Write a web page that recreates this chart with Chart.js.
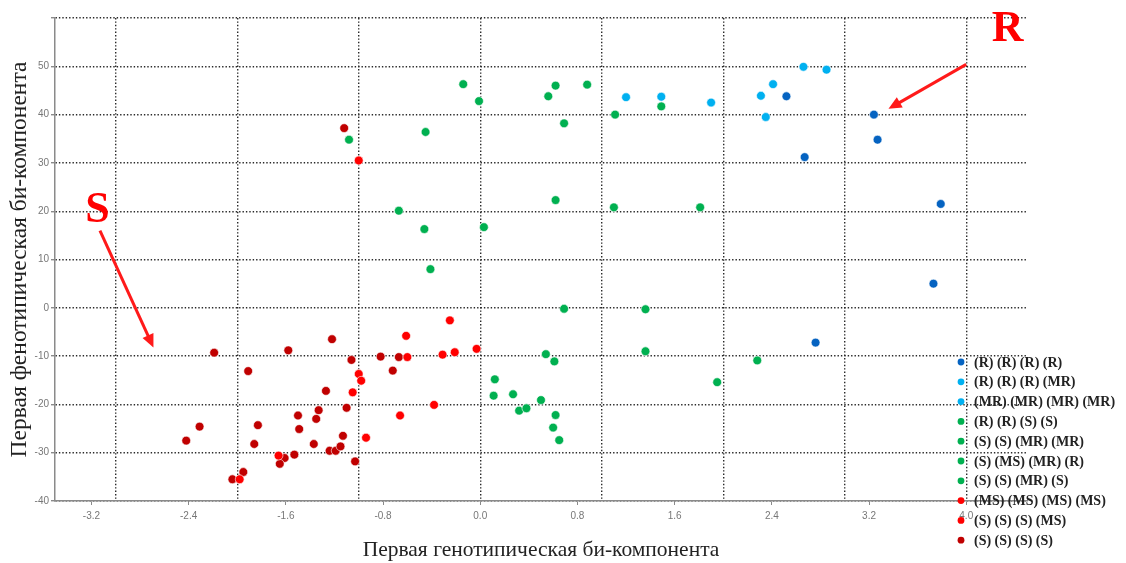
<!DOCTYPE html>
<html>
<head>
<meta charset="utf-8">
<script src="https://cdn.jsdelivr.net/npm/chart.js@4.4.0/dist/chart.umd.min.js"></script>
<style>
  html, body { margin: 0; padding: 0; background: #fff; }
  #wrap { width: 1126px; height: 563px; }
</style>
</head>
<body>
<div id="wrap"><canvas id="chart"></canvas></div>
<script>
// Точки по группам (цвет = группа в легенде)
const darkBlueX = [2.52, 2.67, 3.24, 3.27, 3.79, 3.73, 2.76];
const darkBlueY = [43.8, 31.2, 40.0, 34.8, 21.5, 5.0, -7.2];

const lightBlueX = [1.20, 1.49, 1.90, 2.31, 2.41, 2.35, 2.66, 2.85];
const lightBlueY = [43.6, 43.7, 42.5, 43.9, 46.3, 39.5, 49.9, 49.3];

const greenX = [-1.08, -0.14, -0.01, -0.45, 0.62, 0.56, 0.88, 1.11, 0.69, 1.49,
  -0.67, -0.46, 0.03, 0.62, 1.10, 1.81, -0.41, 0.69, 1.36, 0.54, 0.61, 1.36,
  2.28, 1.95, 0.12, 0.11, 0.27, 0.50, 0.32, 0.38, 0.62, 0.60, 0.65];
const greenY = [34.8, 46.3, 42.8, 36.4, 46.0, 43.8, 46.2, 40.0, 38.2, 41.7,
  20.1, 16.3, 16.7, 22.3, 20.8, 20.8, 8.0, -0.2, -0.3, -9.6, -11.1, -9.0,
  -10.9, -15.4, -14.8, -18.2, -17.9, -19.1, -21.3, -20.8, -22.2, -24.8, -27.4];

const redX = [-1.00, -0.25, -0.61, -0.03, -0.31, -0.21, -0.60, -1.00, -0.98,
  -1.05, -0.38, -0.66, -0.94, -1.66, -1.98];
const redY = [30.5, -2.6, -5.8, -8.5, -9.7, -9.2, -10.2, -13.7, -15.1,
  -17.5, -20.1, -22.3, -26.9, -30.6, -35.5];

const darkRedX = [-1.12, -2.19, -1.58, -1.22, -0.82, -0.67, -1.06, -0.72, -1.27,
  -1.91, -1.10, -1.33, -1.35, -1.50, -1.49, -1.83, -2.31, -2.42, -1.86, -1.37,
  -1.13, -1.24, -1.19, -1.15, -1.03, -1.53, -1.61, -1.65, -1.95, -2.04];
const darkRedY = [37.2, -9.3, -8.8, -6.5, -10.1, -10.2, -10.8, -13.0, -17.2,
  -13.1, -20.7, -21.2, -23.0, -22.3, -25.1, -24.3, -24.6, -27.5, -28.2, -28.2,
  -26.5, -29.6, -29.6, -28.7, -31.8, -30.4, -31.1, -32.3, -34.0, -35.5];

// Подписи легенды
const legendLabels = [
  "(R) (R) (R) (R)",
  "(R) (R) (R) (MR)",
  "(MR) (MR) (MR) (MR)",
  "(R) (R) (S) (S)",
  "(S) (S) (MR) (MR)",
  "(S) (MS) (MR) (R)",
  "(S) (S) (MR) (S)",
  "(MS) (MS) (MS) (MS)",
  "(S) (S) (S) (MS)",
  "(S) (S) (S) (S)",
];
const legendColors = [
  "#0563c1", "#00b0f0", "#00b0f0", "#00b050", "#00b050",
  "#00b050", "#00b050", "#ff0000", "#ff0000", "#c00000",
];

// Оси
const xTickValues = [-3.2, -2.4, -1.6, -0.8, 0.0, 0.8, 1.6, 2.4, 3.2, 4.0];
const xGridValues = [-3, -2, -1, 0, 1, 2, 3, 4];

const toPoints = (xs, ys) => xs.map((x, i) => ({ x: x, y: ys[i] }));

const groups = [
  { label: "(R)", xs: darkBlueX, ys: darkBlueY, color: "#0563c1" },
  { label: "(R)/(MR)", xs: lightBlueX, ys: lightBlueY, color: "#00b0f0" },
  { label: "(S)/(MR)", xs: greenX, ys: greenY, color: "#00b050" },
  { label: "(MS)", xs: redX, ys: redY, color: "#ff0000" },
  { label: "(S)", xs: darkRedX, ys: darkRedY, color: "#c00000" },
];

const dotted = "#2a2a2a";
const dotDash = [1.4, 2];
const axisGray = "#8a8a8a";

// Легенда поверх области графика
const legendPlugin = {
  id: "sideLegend",
  afterDraw(chart) {
    const ctx = chart.ctx;
    ctx.save();
    ctx.font = "bold 14px 'Liberation Serif', 'Times New Roman', serif";
    ctx.textBaseline = "middle";
    legendLabels.forEach((txt, i) => {
      const y = 362 + i * 19.8;
      ctx.beginPath();
      ctx.arc(961, y, 3.4, 0, Math.PI * 2);
      ctx.fillStyle = legendColors[i];
      ctx.fill();
      ctx.fillStyle = "#222";
      ctx.fillText(txt, 974, y + 1);
    });
    ctx.restore();
  },
};

// Стрелки R и S
const arrowPlugin = {
  id: "arrows",
  afterDatasetsDraw(chart) {
    const ctx = chart.ctx;
    const xs = chart.scales.x;
    const ys = chart.scales.y;
    const arrow = (x1, y1, x2, y2) => {
      const ax = xs.getPixelForValue(x1), ay = ys.getPixelForValue(y1);
      const bx = xs.getPixelForValue(x2), by = ys.getPixelForValue(y2);
      const ang = Math.atan2(by - ay, bx - ax);
      ctx.strokeStyle = "#ff1a1a";
      ctx.fillStyle = "#ff1a1a";
      ctx.lineWidth = 3;
      ctx.beginPath();
      ctx.moveTo(ax, ay);
      ctx.lineTo(bx - 8 * Math.cos(ang), by - 8 * Math.sin(ang));
      ctx.stroke();
      ctx.beginPath();
      ctx.moveTo(bx, by);
      ctx.lineTo(bx - 13 * Math.cos(ang) + 6 * Math.sin(ang), by - 13 * Math.sin(ang) - 6 * Math.cos(ang));
      ctx.lineTo(bx - 13 * Math.cos(ang) - 6 * Math.sin(ang), by - 13 * Math.sin(ang) + 6 * Math.cos(ang));
      ctx.closePath();
      ctx.fill();
    };
    ctx.save();
    arrow(4.0, 50.4, 3.36, 41.2);
    arrow(-3.13, 16.0, -2.69, -8.2);
    ctx.font = "bold 44px 'Liberation Serif', 'Times New Roman', serif";
    ctx.fillStyle = "#ff0000";
    ctx.textAlign = "center";
    ctx.textBaseline = "middle";
    ctx.fillText("R", xs.getPixelForValue(4.34), ys.getPixelForValue(57.6));
    ctx.fillText("S", xs.getPixelForValue(-3.15), ys.getPixelForValue(20.2));
    ctx.restore();
  },
};

new Chart(document.getElementById("chart"), {
  type: "scatter",
  data: {
    datasets: groups.map((g) => ({
      label: g.label,
      data: toPoints(g.xs, g.ys),
      backgroundColor: g.color,
      borderColor: "#ffffff",
      borderWidth: 0.6,
      pointRadius: 4.4,
    })),
  },
  options: {
    responsive: true,
    maintainAspectRatio: false,
    animation: false,
    layout: { padding: { top: 18, right: 99, left: 0, bottom: 0 } },
    plugins: {
      legend: { display: false },
      tooltip: { enabled: false },
    },
    scales: {
      x: {
        type: "linear",
        position: "bottom",
        min: -3.5,
        max: 4.5,
        afterBuildTicks: (s) => { s.ticks = xTickValues.map((v) => ({ value: v })); },
        afterFit: (s) => { s.height = 62; },
        grid: {
          drawOnChartArea: false,
          drawTicks: true,
          tickLength: 4,
          tickColor: axisGray,
          tickBorderDash: [],
        },
        border: { display: true, color: axisGray, width: 1.5 },
        ticks: {
          color: "#777",
          font: { family: "'Liberation Sans', Arial, sans-serif", size: 10 },
          padding: 5,
          callback: (v) => Number(v).toFixed(1),
        },
        title: {
          display: true,
          text: "Первая генотипическая би-компонента",
          color: "#222",
          font: { family: "'Liberation Serif', 'Times New Roman', serif", size: 21.5 },
          padding: { top: 0, bottom: 0 },
        },
      },
      x2: {
        type: "linear",
        position: "top",
        min: -3.5,
        max: 4.5,
        afterBuildTicks: (s) => { s.ticks = xGridValues.map((v) => ({ value: v })); },
        afterFit: (s) => { s.height = 0; },
        grid: { color: dotted, lineWidth: 1.4, drawTicks: false },
        border: { display: false, dash: dotDash },
        ticks: { display: false },
      },
      y: {
        type: "linear",
        min: -40,
        max: 60,
        afterFit: (s) => { s.width = 55; },
        grid: {
          color: dotted,
          lineWidth: 1.4,
          drawTicks: true,
          tickLength: 4,
          tickColor: axisGray,
          tickBorderDash: [],
        },
        border: { display: true, color: axisGray, width: 1.5, dash: dotDash },
        ticks: {
          stepSize: 10,
          color: "#777",
          font: { family: "'Liberation Sans', Arial, sans-serif", size: 10 },
          padding: 2,
          callback: (v) => (v === 60 ? "" : v),
        },
        title: {
          display: true,
          text: "Первая фенотипическая би-компонента",
          color: "#222",
          font: { family: "'Liberation Serif', 'Times New Roman', serif", size: 23.5 },
          padding: { top: 6, bottom: 0 },
        },
      },
    },
  },
  plugins: [arrowPlugin, legendPlugin],
});
</script>
</body>
</html>
